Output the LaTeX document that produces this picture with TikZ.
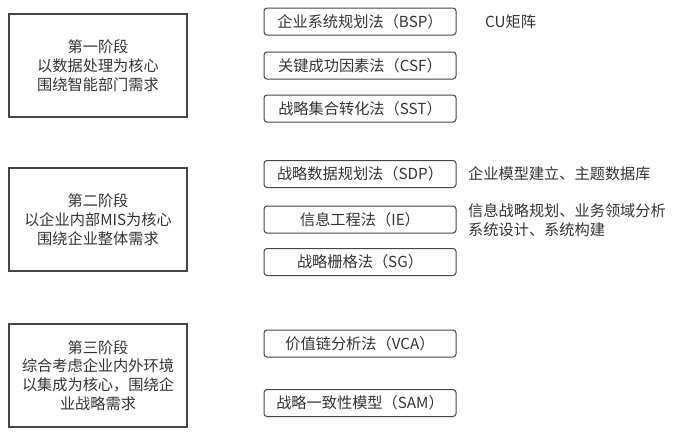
\documentclass[tikz,border=0pt]{standalone}
\usepackage{fontspec}
\setmainfont{Noto Sans CJK SC}
\definecolor{edge}{HTML}{454545}
\definecolor{ink}{HTML}{333333}
\begin{document}
\begin{tikzpicture}[x=1pt,y=-1pt,
  every node/.style={text=ink, font=\fontsize{15.2}{18.7}\selectfont, inner sep=0pt},
  stage/.style={draw=edge, line width=1.1pt, minimum width=178pt, align=center},
  method/.style={draw=edge, line width=1pt, rounded corners=3pt, minimum width=192pt, minimum height=27pt},
  note/.style={anchor=west, align=left}]
\useasboundingbox (0,0) rectangle (675,434);

% stages on the left
\node[stage, minimum height=103pt] (s1) at (98,65.5) {第一阶段\\以数据处理为核心\\围绕智能部门需求};
\node[stage, minimum height=103pt] (s2) at (98,219.5) {第二阶段\\以企业内部MIS为核心\\围绕企业整体需求};
\node[stage, minimum height=103pt] (s3) at (98,375.5) {第三阶段\\综合考虑企业内外环境\\以集成为核心，围绕企\\业战略需求};

% planning methods
\node[method] (bsp) at (360,21.5) {企业系统规划法（BSP）};
\node[method] (csf) at (360,65.5) {关键成功因素法（CSF）};
\node[method] (sst) at (360,108.5) {战略集合转化法（SST）};
\node[method] (sdp) at (360,174) {战略数据规划法（SDP）};
\node[method] (ie)  at (360,219.5) {信息工程法（IE）};
\node[method] (sg)  at (360,262) {战略栅格法（SG）};
\node[method] (vca) at (360,343.5) {价值链分析法（VCA）};
\node[method] (sam) at (360,403) {战略一致性模型（SAM）};

% notes
\node[note] (cu) at (485,21.5) {CU矩阵};
\node[note] (sdpn) at (468,174) {企业模型建立、主题数据库};
\node[note] (ien) at (468,220) {信息战略规划、业务领域分析\\系统设计、系统构建};
\end{tikzpicture}
\end{document}
